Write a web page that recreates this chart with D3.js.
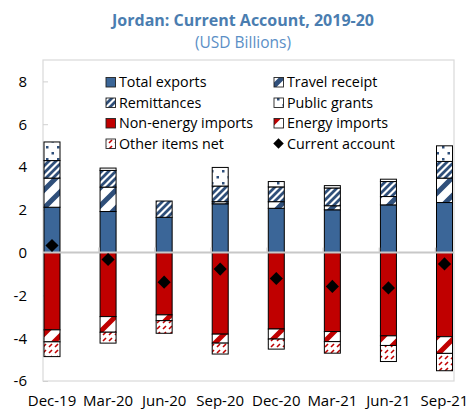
<!DOCTYPE html>
<html>
<head>
<meta charset="utf-8">
<script src="https://cdn.jsdelivr.net/npm/d3@7"></script>
<style>
  body { margin: 0; background: #fff; }
  svg { display: block; font-family: "Open Sans", sans-serif; }
</style>
</head>
<body>
<svg id="chart" width="469" height="409"></svg>
<script>
// Values (USD billions)
const categories = ["Dec-19", "Mar-20", "Jun-20", "Sep-20", "Dec-20", "Mar-21", "Jun-21", "Sep-21"];
const totalExports = [2.12, 1.92, 1.65, 2.28, 2.07, 2.00, 2.23, 2.34];
const travelReceipt = [1.36, 1.14, 0.00, 0.10, 0.31, 0.19, 0.39, 1.14];
const remittances = [0.82, 0.78, 0.76, 0.73, 0.69, 0.83, 0.70, 0.78];
const publicGrants = [0.87, 0.11, 0.00, 0.87, 0.25, 0.11, 0.11, 0.73];
const nonEnergyImports = [-3.61, -2.99, -2.91, -3.81, -3.57, -3.69, -3.89, -3.93];
const energyImports = [-0.56, -0.73, -0.27, -0.42, -0.47, -0.47, -0.45, -0.78];
const otherItemsNet = [-0.69, -0.51, -0.59, -0.51, -0.47, -0.54, -0.75, -0.81];
const currentAccount = [0.33, -0.32, -1.38, -0.77, -1.21, -1.58, -1.65, -0.53];
const yTicks = [-6, -4, -2, 0, 2, 4, 6, 8];

const series = [
  { key: "Total exports", values: totalExports, fill: "#3b6698" },
  { key: "Travel receipt", values: travelReceipt, fill: "url(#travel)" },
  { key: "Remittances", values: remittances, fill: "url(#remit)" },
  { key: "Public grants", values: publicGrants, fill: "url(#grants)" },
  { key: "Non-energy imports", values: nonEnergyImports, fill: "#c00000" },
  { key: "Energy imports", values: energyImports, fill: "url(#energy)" },
  { key: "Other items net", values: otherItemsNet, fill: "url(#other)" }
];

const svg = d3.select("#chart");
const L = 43, R = 454, T = 60, B = 381;
const navy = "#2f4f7a", red = "#c00000";

// patterns
const defs = svg.append("defs");
function widePattern(id, color) {
  const p = defs.append("pattern").attr("id", id).attr("patternUnits", "userSpaceOnUse")
    .attr("width", 18).attr("height", 18);
  p.append("rect").attr("width", 18).attr("height", 18).attr("fill", "#fff");
  p.append("path").attr("d", "M-4,4L4,-4M0,18L18,0M14,22L22,14")
    .attr("stroke", color).attr("stroke-width", 5);
}
widePattern("travel", navy);
widePattern("energy", red);
const rp = defs.append("pattern").attr("id", "remit").attr("patternUnits", "userSpaceOnUse")
  .attr("width", 7).attr("height", 7);
rp.append("rect").attr("width", 7).attr("height", 7).attr("fill", "#fff");
rp.append("path").attr("d", "M-2,2L2,-2M0,7L7,0M5,9L9,5").attr("stroke", navy).attr("stroke-width", 2.8);
const gp = defs.append("pattern").attr("id", "grants").attr("patternUnits", "userSpaceOnUse")
  .attr("width", 11).attr("height", 12);
gp.append("rect").attr("width", 11).attr("height", 12).attr("fill", "#fff");
gp.append("rect").attr("x", 2).attr("y", 2).attr("width", 2.5).attr("height", 2.5).attr("fill", navy);
gp.append("rect").attr("x", 7.5).attr("y", 8).attr("width", 2.5).attr("height", 2.5).attr("fill", navy);
const op = defs.append("pattern").attr("id", "other").attr("patternUnits", "userSpaceOnUse")
  .attr("width", 6).attr("height", 6);
op.append("rect").attr("width", 6).attr("height", 6).attr("fill", "#fff");
op.append("path").attr("d", "M1,5L4,2").attr("stroke", red).attr("stroke-width", 1.6);

// title
svg.append("text").attr("x", 243).attr("y", 26).attr("text-anchor", "middle")
  .attr("font-size", 16).attr("font-weight", "bold").attr("fill", "#4a7db0")
  .text("Jordan: Current Account, 2019-20");
svg.append("text").attr("x", 243).attr("y", 48).attr("text-anchor", "middle")
  .attr("font-size", 15.5).attr("fill", "#5b8fc6").text("(USD Billions)");

const y = d3.scaleLinear().domain([-6, 9]).range([B, T]);
const x = d3.scalePoint().domain(categories).range([52, 444.5]);
const barW = 16;

// frame
svg.append("rect").attr("x", L).attr("y", T).attr("width", R - L).attr("height", B - T)
  .attr("fill", "none").attr("stroke", "#d9d9d9").attr("stroke-width", 1.2);

// y axis
const yAxis = svg.append("g").attr("transform", `translate(${L},0)`)
  .call(d3.axisRight(y).tickValues(yTicks).tickSize(5).tickFormat(""));
yAxis.select(".domain").remove();
yAxis.selectAll("line").attr("stroke", "#d0d0d0");
svg.append("g").selectAll("text").data(yTicks).join("text")
  .attr("x", 27).attr("y", d => y(d)).attr("dy", "0.36em").attr("text-anchor", "end")
  .attr("font-size", 15).attr("fill", "#000").text(d => d);

// legend
const legend = [
  { key: "Total exports", fill: "#3b6698", cx: 106, cy: 82 },
  { key: "Travel receipt", fill: "url(#travel)", cx: 274, cy: 82 },
  { key: "Remittances", fill: "url(#remit)", cx: 106, cy: 102.5 },
  { key: "Public grants", fill: "url(#grants)", cx: 274, cy: 102.5 },
  { key: "Non-energy imports", fill: "#c00000", cx: 106, cy: 123 },
  { key: "Energy imports", fill: "url(#energy)", cx: 274, cy: 123 },
  { key: "Other items net", fill: "url(#other)", cx: 106, cy: 143.5 },
  { key: "Current account", fill: null, cx: 274, cy: 143.5 }
];
const lg = svg.append("g").selectAll("g").data(legend).join("g");
lg.each(function(d) {
  const g = d3.select(this);
  if (d.fill) {
    g.append("rect").attr("x", d.cx).attr("y", d.cy - 4.5).attr("width", 9.5).attr("height", 9.5)
      .attr("fill", d.fill).attr("stroke", "#222").attr("stroke-width", 0.9);
  } else {
    g.append("path").attr("d", d3.symbol(d3.symbolDiamond2, 70)())
      .attr("transform", `translate(${d.cx + 4.5},${d.cy})`).attr("fill", "#000");
  }
  g.append("text").attr("x", d.cx + 13).attr("y", d.cy).attr("dy", "0.36em")
    .attr("font-size", 14.3).attr("fill", "#000").text(d.key);
});

// stacked bars
const rows = categories.map((c, i) => {
  const r = { cat: c };
  series.forEach(s => r[s.key] = s.values[i]);
  return r;
});
const stack = d3.stack().keys(series.map(s => s.key)).offset(d3.stackOffsetDiverging)(rows);
stack.forEach((layer, si) => {
  svg.append("g").selectAll("rect").data(layer.filter(d => d[1] !== d[0])).join("rect")
    .attr("x", d => x(d.data.cat) - barW / 2)
    .attr("y", d => y(Math.max(d[0], d[1])))
    .attr("width", barW)
    .attr("height", d => Math.abs(y(d[0]) - y(d[1])))
    .attr("fill", series[si].fill)
    .attr("stroke", "#000").attr("stroke-width", 1);
});

// zero line and category ticks
svg.append("line").attr("x1", L).attr("x2", R).attr("y1", y(0)).attr("y2", y(0))
  .attr("stroke", "#c8c8c8").attr("stroke-width", 2);
svg.append("g").selectAll("line").data(categories.slice(1)).join("line")
  .attr("x1", d => x(d) - 9).attr("x2", d => x(d) - 9)
  .attr("y1", y(0)).attr("y2", y(0) - 5).attr("stroke", "#c8c8c8").attr("stroke-width", 1.5);

// current account diamonds
svg.append("g").selectAll("path").data(currentAccount).join("path")
  .attr("d", d3.symbol(d3.symbolDiamond2, 110)())
  .attr("transform", (d, i) => `translate(${x(categories[i])},${y(d)})`)
  .attr("fill", "#000");

// x labels
svg.append("g").selectAll("text").data(categories).join("text")
  .attr("x", d => x(d)).attr("y", 406).attr("text-anchor", "middle")
  .attr("font-size", 15).attr("fill", "#000").text(d => d);
</script>
</body>
</html>
